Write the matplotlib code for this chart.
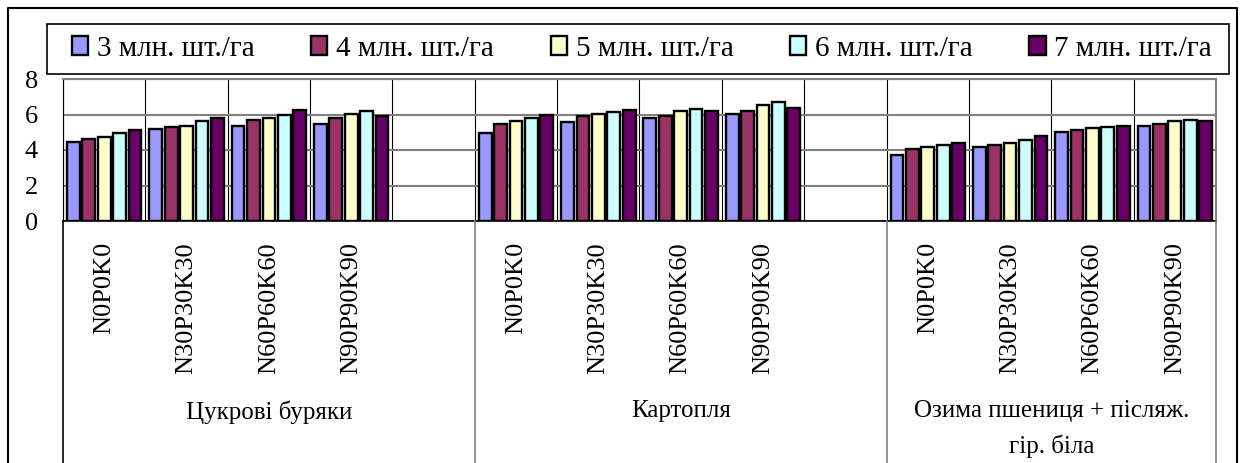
import numpy as np
import matplotlib
matplotlib.use('Agg')
from matplotlib import pyplot as plt
from matplotlib.lines import Line2D
from matplotlib.patches import Rectangle
from matplotlib.transforms import blended_transform_factory

plt.rcParams['font.family'] = ['Liberation Serif', 'DejaVu Serif']

crops = ['Цукрові буряки', 'Картопля', 'Озима пшениця + післяж.\nгір. біла']
fert = ['N0P0K0', 'N30P30K30', 'N60P60K60', 'N90P90K90']
series = ['3 млн. шт./га', '4 млн. шт./га', '5 млн. шт./га', '6 млн. шт./га', '7 млн. шт./га']
colors = ['#9999FF', '#993366', '#FFFFCC', '#CCFFFF', '#660066']

# values: 4 fertilizer levels for each crop, crops in order above
d3 = [4.47, 5.17, 5.36, 5.49, 4.94, 5.59, 5.81, 6.04, 3.71, 4.15, 5.02, 5.36]
d4 = [4.62, 5.27, 5.70, 5.81, 5.45, 5.93, 5.93, 6.17, 4.03, 4.28, 5.11, 5.47]
d5 = [4.73, 5.36, 5.81, 6.04, 5.66, 6.04, 6.17, 6.52, 4.15, 4.41, 5.25, 5.66]
d6 = [4.94, 5.64, 6.00, 6.17, 5.78, 6.16, 6.31, 6.69, 4.30, 4.58, 5.30, 5.70]
d7 = [5.11, 5.83, 6.27, 5.89, 5.95, 6.23, 6.19, 6.36, 4.41, 4.77, 5.36, 5.66]
data = [d3, d4, d5, d6, d7]

W, H = 1242, 463
fig = plt.figure(figsize=(W / 100, H / 100), dpi=100)
ax = fig.add_axes([63 / W, 1 - 221 / H, 1153 / W, 142 / H])

# slot positions: 5 slots per crop (last one empty), 14 slots total
slots = np.array([c * 5 + f for c in range(3) for f in range(4)])
pitch = 0.187
bw = 0.155
for k, vals in enumerate(data):
    x = slots + 0.5 + (k - 2) * pitch
    ax.bar(x, vals, width=bw, color=colors[k], edgecolor='black', linewidth=1.7,
           label=series[k], zorder=3)

ax.set_xlim(0, 14)
ax.set_ylim(0, 8)
ax.set_yticks([0, 2, 4, 6, 8])
ax.set_xticks(np.arange(15))
ax.set_xticklabels([])
ax.tick_params(axis='x', length=0)
ax.tick_params(axis='y', length=0, pad=18, labelsize=19)
ax.yaxis.grid(True, color='#808080', linewidth=1.5, zorder=0)
ax.xaxis.grid(True, color='black', linewidth=0.8, zorder=0)
ax.set_axisbelow(True)
for s in ['top', 'right']:
    ax.spines[s].set_color('#808080')
    ax.spines[s].set_linewidth(1.5)
ax.spines['left'].set_color('black')
ax.spines['bottom'].set_color('black')
ax.spines['bottom'].set_linewidth(1.2)

# category labels
for i, s in enumerate(slots):
    ax.annotate(fert[i % 4], xy=(s + 0.5, 0), xycoords=('data', 'axes fraction'),
                xytext=(0, -21), textcoords='offset pixels', rotation=90,
                ha='center', va='top', fontsize=19, annotation_clip=False)
centers = [2.5, 7.5, 12]
for c, name in enumerate(crops):
    ax.annotate(name, xy=(centers[c], 0), xycoords=('data', 'axes fraction'),
                xytext=(0, -179), textcoords='offset pixels', ha='center', va='top',
                fontsize=18, linespacing=1.65, annotation_clip=False)

# divider lines under the axis
tr = blended_transform_factory(ax.transData, fig.transFigure)
for xd, col in [(0, 'black'), (5, '#808080'), (10, '#808080'), (14, '#808080')]:
    fig.add_artist(Line2D([xd, xd], [0, 1 - 221 / H], transform=tr, color=col, linewidth=1.2))

# outer frame (open at bottom)
fig.add_artist(Line2D([8 / W, 8 / W, 1237 / W, 1237 / W], [0, 1 - 8 / H, 1 - 8 / H, 0],
                      transform=fig.transFigure, color='black', linewidth=1.5))

# legend box
fig.add_artist(Rectangle((47 / W, 1 - 74 / H), 1182 / W, 50 / H, transform=fig.transFigure,
                         facecolor='white', edgecolor='black', linewidth=1.2, zorder=1))
leg = fig.legend(loc='center', bbox_to_anchor=(72 / W, 1 - 74 / H, 1140 / W, 50 / H),
                 mode='expand', ncol=5, fontsize=21, frameon=False,
                 handlelength=0.55, handleheight=0.6, handletextpad=0.3, borderaxespad=0,
                 borderpad=0, columnspacing=1.0)
leg.set_zorder(2)

fig.savefig('out.png', dpi=100)
